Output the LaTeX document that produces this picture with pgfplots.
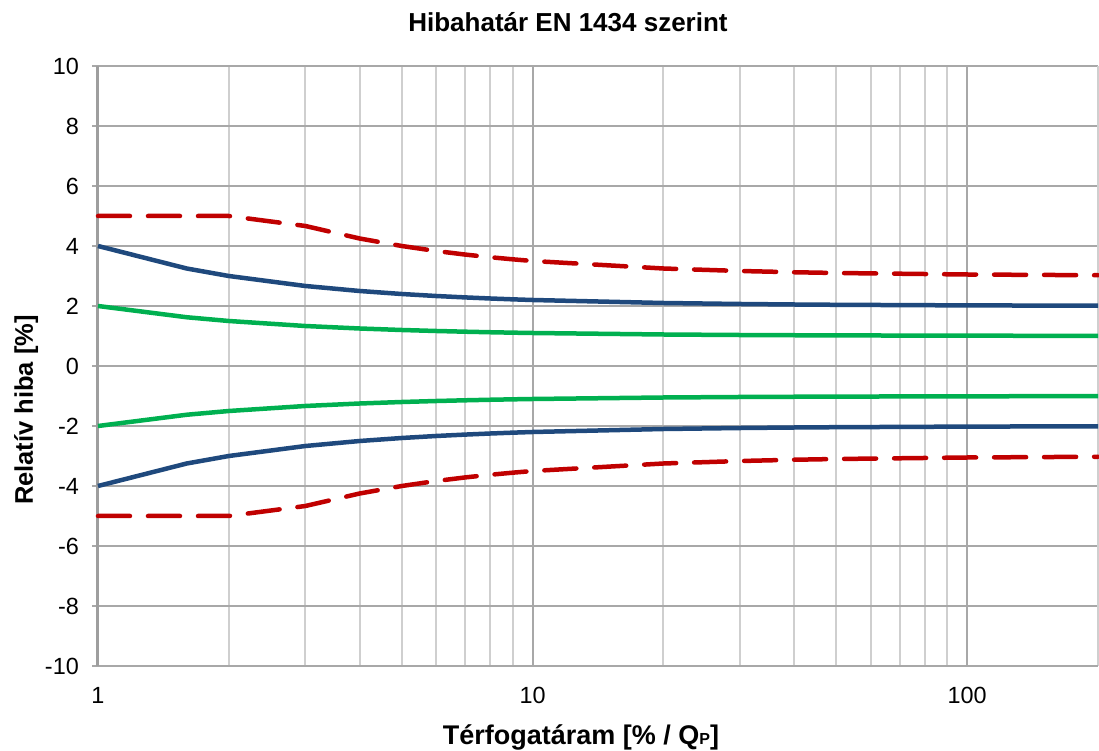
\documentclass[border=0pt]{standalone}
\usepackage{pgfplots}
\pgfplotsset{compat=1.18}
\usepackage{fontspec}
\setmainfont{Liberation Sans}
\definecolor{cred}{HTML}{C00000}
\definecolor{cblue}{HTML}{1F497D}
\definecolor{cgreen}{HTML}{00B050}
\definecolor{gmaj}{HTML}{A8A8A8}
\definecolor{gmin}{HTML}{CFCFCF}
\definecolor{gaxis}{HTML}{9E9E9E}
\begin{document}
\begin{tikzpicture}
\useasboundingbox (-98bp,-85bp) rectangle (1001bp,666bp);
\begin{axis}[
  scale only axis, width=1000bp, height=600bp,
  xmode=log, xmin=1, xmax=200, ymin=-10, ymax=10,
  xtick={1,10,100}, xticklabels={1,10,100},
  minor xtick={2,3,4,5,6,7,8,9,20,30,40,50,60,70,80,90},
  ytick={-10,-8,-6,-4,-2,0,2,4,6,8,10},
  grid=both,
  major grid style={color=gmaj, line width=2bp},
  minor grid style={color=gmin, line width=2bp},
  axis line style={draw=none},
  xtick style={draw=none},
  ytick pos=left,
  tick align=outside,
  major tick length=6bp,
  ytick style={color=gmaj, line width=2bp},
  /pgf/number format/assume math mode=true,
  ticklabel style={font=\fontsize{23.4bp}{28bp}\selectfont, inner sep=0pt},
  yticklabel style={anchor=east, xshift=-13bp},
  xticklabel style={anchor=north, yshift=-15bp},
  clip=false,
]
% frame
\draw[gmin, line width=2bp] (rel axis cs:1,0) -- (rel axis cs:1,1);
\draw[gmaj, line width=2bp] (rel axis cs:0,0) -- (rel axis cs:1,0);
\draw[gaxis, line width=3bp] (rel axis cs:0,0) -- (rel axis cs:0,1);

\addplot[cred, line width=4.5bp, line cap=round, line join=round, dash pattern=on 32bp off 18bp] table {
x y
1 5
1.6 5
2 5
3 4.667
4 4.25
5 4
6 3.833
7 3.714
8 3.625
9 3.556
10 3.5
20 3.25
30 3.167
40 3.125
50 3.1
100 3.05
200 3.025
};
\addplot[cred, line width=4.5bp, line cap=round, line join=round, dash pattern=on 32bp off 18bp] table {
x y
1 -5
1.6 -5
2 -5
3 -4.667
4 -4.25
5 -4
6 -3.833
7 -3.714
8 -3.625
9 -3.556
10 -3.5
20 -3.25
30 -3.167
40 -3.125
50 -3.1
100 -3.05
200 -3.025
};
\addplot[cblue, line width=4.5bp, line join=round] table {
x y
1 4
1.6 3.25
2 3
3 2.667
4 2.5
5 2.4
6 2.333
7 2.286
8 2.25
9 2.222
10 2.2
20 2.1
30 2.067
40 2.05
50 2.04
100 2.02
200 2.01
};
\addplot[cblue, line width=4.5bp, line join=round] table {
x y
1 -4
1.6 -3.25
2 -3
3 -2.667
4 -2.5
5 -2.4
6 -2.333
7 -2.286
8 -2.25
9 -2.222
10 -2.2
20 -2.1
30 -2.067
40 -2.05
50 -2.04
100 -2.02
200 -2.01
};
\addplot[cgreen, line width=4.5bp, line join=round] table {
x y
1 2
1.6 1.625
2 1.5
3 1.333
4 1.25
5 1.2
6 1.167
7 1.143
8 1.125
9 1.111
10 1.1
20 1.05
30 1.033
40 1.025
50 1.02
100 1.01
200 1.005
};
\addplot[cgreen, line width=4.5bp, line join=round] table {
x y
1 -2
1.6 -1.625
2 -1.5
3 -1.333
4 -1.25
5 -1.2
6 -1.167
7 -1.143
8 -1.125
9 -1.111
10 -1.1
20 -1.05
30 -1.033
40 -1.025
50 -1.02
100 -1.01
200 -1.005
};
\end{axis}
\node[anchor=base, inner sep=0pt, font=\fontsize{26bp}{30bp}\selectfont\bfseries] at (470bp,634.3bp) {Hibahatár EN 1434 szerint};
\node[anchor=base, inner sep=0pt, font=\fontsize{27bp}{32bp}\selectfont\bfseries] at (483bp,-78.3bp) {Térfogatáram [\% / Q{\fontsize{16bp}{18bp}\selectfont P}]};
\node[anchor=base, rotate=90, inner sep=0pt, font=\fontsize{25.5bp}{30bp}\selectfont\bfseries] at (-65bp,256bp) {Relatív hiba [\%]};
\end{tikzpicture}
\end{document}
